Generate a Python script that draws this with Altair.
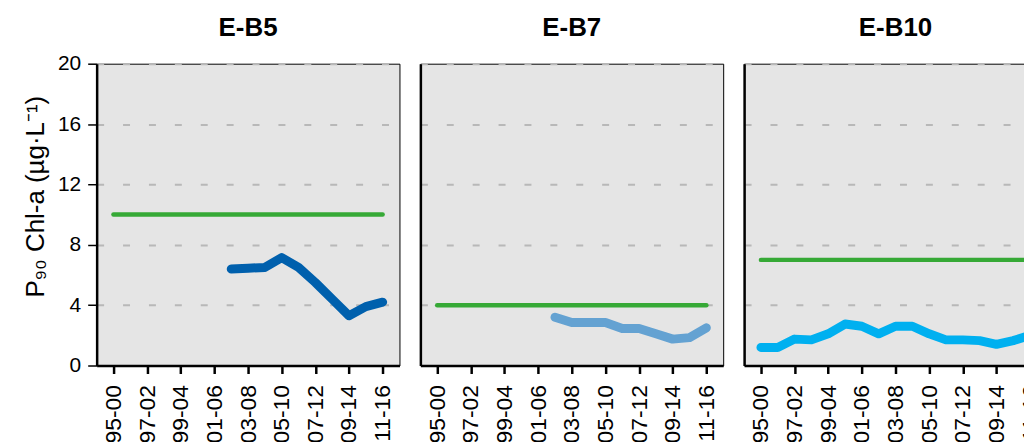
import altair as alt
import pandas as pd

periods = ["1995-00", "1996-01", "1997-02", "1998-03", "1999-04", "2000-05",
           "2001-06", "2002-07", "2003-08", "2004-09", "2005-10", "2006-11",
           "2007-12", "2008-13", "2009-14", "2010-15", "2011-16"]
tick_labels = ["1995-00", "1997-02", "1999-04", "2001-06", "2003-08",
               "2005-10", "2007-12", "2009-14", "2011-16"]

stations = ["E-B5", "E-B7", "E-B10"]
eb5 = [None, None, None, None, None, None, None,
       6.4, 6.45, 6.5, 7.15, 6.5, 5.5, 4.4, 3.3, 3.9, 4.2]
eb7 = [None, None, None, None, None, None, None,
       3.2, 2.85, 2.85, 2.85, 2.45, 2.45, 2.1, 1.75, 1.85, 2.5]
eb10 = [1.2, 1.2, 1.75, 1.7, 2.1, 2.75, 2.6, 2.1, 2.6, 2.6,
        2.1, 1.7, 1.7, 1.65, 1.4, 1.65, 2.0]
thresholds = [10, 4, 7]
colors = ["#0060ad", "#64a2d2", "#00b0f0"]
green = "#36a936"

FONT = "Liberation Sans"
PW, PH = 304, 303


def panel(name, vals, thr, color, first):
    df = pd.DataFrame({"period": periods, "value": vals}).dropna()
    tdf = pd.DataFrame({"period": [periods[0], periods[-1]], "value": [thr, thr]})
    x = alt.X("period:O",
              scale=alt.Scale(type="point", domain=periods, padding=1.05),
              axis=alt.Axis(values=tick_labels, labelAngle=-90, title=None,
                            labelFontSize=23, labelFont=FONT, labelColor="black",
                            tickSize=8, tickWidth=2.5, tickColor="black",
                            domainColor="black", domainWidth=2.5,
                            labelPadding=11, grid=False))
    yaxis_kwargs = dict(values=[0, 4, 8, 12, 16, 20], grid=True,
                        gridDash=[7, 19], gridColor="#b8b8b8", gridWidth=2,
                        domainColor="black", domainWidth=2.5)
    if first:
        yaxis = alt.Axis(title="P₉₀ Chl-a (µg·L⁻¹)", titleFontSize=26,
                         titleFont=FONT, titleFontWeight="normal",
                         titleColor="black", titlePadding=9,
                         titleY=133, titleAlign="center",
                         labelFontSize=21, labelFont=FONT, labelColor="black",
                         tickSize=9, tickColor="black", tickWidth=1.5,
                         labelPadding=7, **yaxis_kwargs)
    else:
        yaxis = alt.Axis(title=None, labels=False, ticks=False, **yaxis_kwargs)
    y = alt.Y("value:Q", scale=alt.Scale(domain=[0, 20]), axis=yaxis)
    thr_line = alt.Chart(tdf).mark_line(color=green, strokeWidth=4.5,
                                         strokeCap="round").encode(x=x, y=y)
    st_line = alt.Chart(df).mark_line(color=color, strokeWidth=9,
                                       strokeCap="round",
                                       strokeJoin="round").encode(x=x, y=y)
    return alt.layer(thr_line, st_line).properties(
        width=PW, height=PH,
        title=alt.TitleParams(name, fontSize=26, font=FONT, fontWeight="bold",
                              color="black", anchor="middle",
                              offset=12 if first else 23))


charts = [panel(stations[i], v, thresholds[i], colors[i], i == 0)
          for i, v in enumerate([eb5, eb7, eb10])]

chart = alt.hconcat(*charts, spacing=19).properties(
    padding={"left": 14, "top": 5, "right": -24, "bottom": 5},
    background="white"
).configure_view(
    fill="#e5e5e5", stroke="black", strokeWidth=1
)

chart.save("out.html", embed_options={"renderer": "svg", "actions": False})
